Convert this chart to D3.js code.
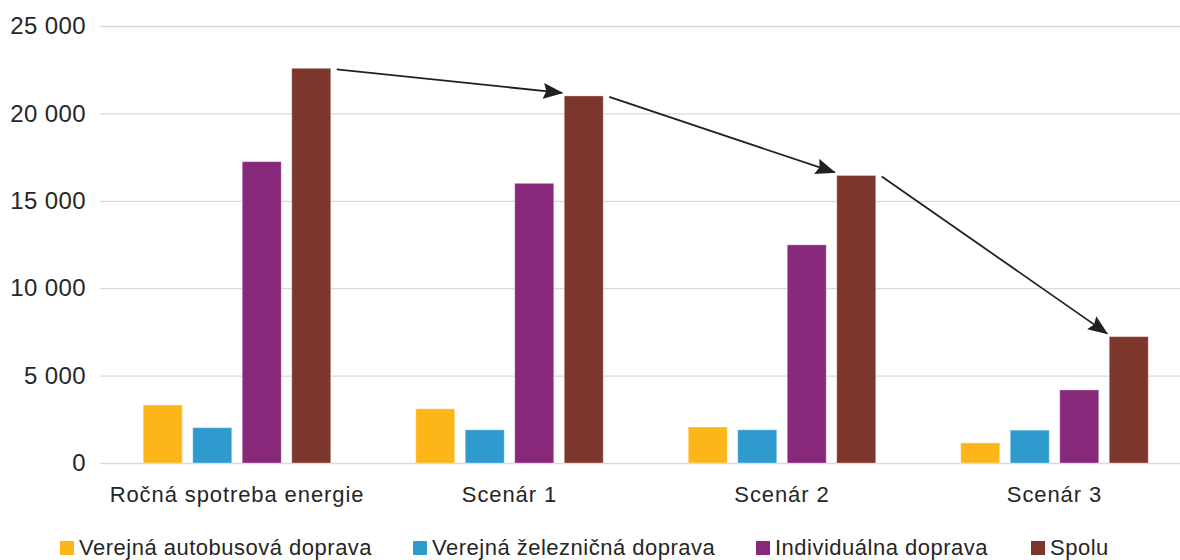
<!DOCTYPE html>
<html lang="sk">
<head>
<meta charset="UTF-8" />
<title>Spotreba energie</title>
<script src="https://d3js.org/d3.v7.min.js"></script>
<style>
  body { margin: 0; background: #fff; }
  svg text { font-family: "Liberation Sans", Arial, sans-serif; fill: #262626; }
</style>
</head>
<body>
<div id="chart"></div>
<script>
// data
var categories = ["Ročná spotreba energie", "Scenár 1", "Scenár 2", "Scenár 3"];
var series = ["Verejná autobusová doprava", "Verejná železničná doprava", "Individuálna doprava", "Spolu"];
var colors = ["#fcb61a", "#2f9ace", "#87287a", "#7c362b"];
var bus   = [3320, 3100, 2060, 1150];
var train = [2020, 1900, 1900, 1880];
var car   = [17240, 16000, 12480, 4180];
var total = [22580, 21000, 16450, 7230];
var yTicks = [0, 5000, 10000, 15000, 20000, 25000];

var values = [bus, train, car, total];

var width = 1180, height = 560;

var svg = d3.select("#chart").append("svg")
  .attr("width", width)
  .attr("height", height);

// scales
var x0 = d3.scaleBand().domain(categories).range([100.75, 1190.75]);
var x1 = d3.scaleBand().domain(series).range([42.5, 230]).paddingInner(0.212).paddingOuter(0);
var y = d3.scaleLinear().domain([0, 25000]).range([463, 26]);

var fmt = d3.formatLocale({ decimal: ",", thousands: " ", grouping: [3], currency: ["", ""] }).format(",d");

// y axis + gridlines
var yAxis = svg.append("g")
  .attr("transform", "translate(100,0)")
  .call(d3.axisLeft(y).tickValues(yTicks).tickFormat(fmt).tickSize(-(width - 100)).tickPadding(14));
yAxis.select(".domain").remove();
yAxis.selectAll("line").attr("stroke", "#d9d9d9").attr("stroke-width", 1.3);
yAxis.selectAll("text")
  .style("font-size", "24px")
  .style("letter-spacing", "0.4px")
  .attr("fill", "#262626");

// bars
var groups = svg.selectAll(".grp")
  .data(categories)
  .enter().append("g")
  .attr("class", "grp")
  .attr("transform", function(d) { return "translate(" + x0(d) + ",0)"; });

groups.selectAll("rect")
  .data(function(d, i) { return series.map(function(s, j) { return { s: s, j: j, v: values[j][i] }; }); })
  .enter().append("rect")
  .attr("x", function(d) { return x1(d.s); })
  .attr("y", function(d) { return y(d.v); })
  .attr("width", x1.bandwidth())
  .attr("height", function(d) { return y(0) - y(d.v); })
  .attr("fill", function(d) { return colors[d.j]; })
  .attr("stroke", "#ffffff")
  .attr("stroke-opacity", 0.35)
  .attr("stroke-width", 1);

// category labels
svg.selectAll(".cat")
  .data(categories)
  .enter().append("text")
  .attr("class", "cat")
  .attr("x", function(d) { return x0(d) + x0.bandwidth() / 2; })
  .attr("y", 502)
  .attr("text-anchor", "middle")
  .style("font-size", "22px")
  .style("letter-spacing", "0.9px")
  .text(function(d) { return d; });

// arrows between totals
svg.append("defs").append("marker")
  .attr("id", "head")
  .attr("markerUnits", "userSpaceOnUse")
  .attr("markerWidth", 20)
  .attr("markerHeight", 16)
  .attr("viewBox", "0 0 20 16")
  .attr("refX", 19)
  .attr("refY", 8)
  .attr("orient", "auto")
  .append("path")
  .attr("d", "M0,0 L20,8 L0,16 L3,8 Z")
  .attr("fill", "#231f20");

var sTot = series[3];
for (var i = 0; i < categories.length - 1; i++) {
  var xa = x0(categories[i]) + x1(sTot) + x1.bandwidth() + 6;
  var ya = y(total[i]) + 1;
  var xb = x0(categories[i + 1]) + x1(sTot) - 2;
  var yb = y(total[i + 1]) - 3;
  svg.append("line")
    .attr("x1", xa).attr("y1", ya)
    .attr("x2", xb).attr("y2", yb)
    .attr("stroke", "#231f20")
    .attr("stroke-width", 1.8)
    .attr("marker-end", "url(#head)");
}

// legend
var legendX = [60, 413, 756, 1031];
var lg = svg.selectAll(".lg")
  .data(series)
  .enter().append("g")
  .attr("class", "lg")
  .attr("transform", function(d, i) { return "translate(" + legendX[i] + ",0)"; });
lg.append("rect")
  .attr("x", 0).attr("y", 541)
  .attr("width", 14).attr("height", 14)
  .attr("fill", function(d, i) { return colors[i]; });
lg.append("text")
  .attr("x", 19)
  .attr("y", 555)
  .style("font-size", "22px")
  .style("letter-spacing", "0.5px")
  .text(function(d) { return d; });
</script>
</body>
</html>
